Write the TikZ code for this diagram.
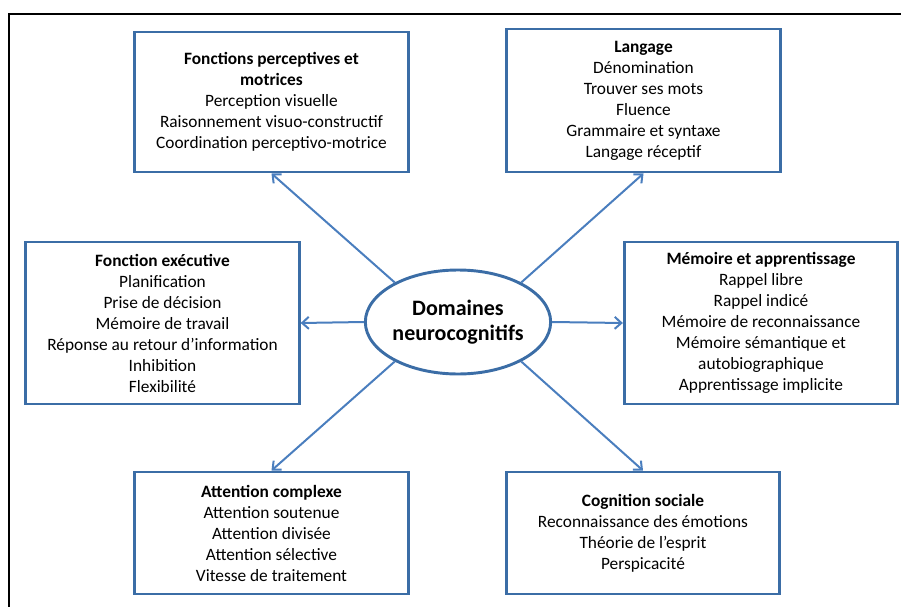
\documentclass[tikz,border=0pt]{standalone}
\usepackage{fontspec}
\setmainfont{Carlito}
\usetikzlibrary{shapes.geometric,arrows.meta}
\definecolor{boxblue}{HTML}{3B6DA6}
\definecolor{arrowblue}{HTML}{4A7EBE}

\begin{document}
\begin{tikzpicture}[x=0.75pt,y=-0.75pt,->,>={Straight Barb[length=5pt,width=9pt]},
    dombox/.style={rectangle, draw=boxblue, line width=2.2pt, minimum width=205pt, align=center, inner sep=0pt, font=\fontsize{13}{15.75}\selectfont},
    hub/.style={ellipse, draw=boxblue, line width=2.2pt, minimum width=132pt, minimum height=78pt, align=center, inner sep=0pt, font=\bfseries\fontsize{16.5}{18.75}\selectfont}]
                        \useasboundingbox (0,0) rectangle (901,607);
                        \draw[-, line width=1.5pt] (9,607) -- (9,14) -- (901,14);

                        \node [hub](centre) [] at (458,322) {Domaines\\neurocognitifs};

                        \node [dombox, minimum height=105pt](fpm) [] at (271.5,102) {\textbf{Fonctions perceptives et}\\\textbf{motrices}\\Perception visuelle\\Raisonnement visuo-constructif\\Coordination perceptivo-motrice};
                        \node [dombox, minimum height=107.25pt](lang) [] at (643.5,100.5) {\textbf{Langage}\\Dénomination\\Trouver ses mots\\Fluence\\Grammaire et syntaxe\\Langage réceptif};

                        \node [dombox, minimum height=121.5pt](exec) [] at (162.5,323) {\textbf{Fonction exécutive}\\Planification\\Prise de décision\\Mémoire de travail\\Réponse au retour d’information\\Inhibition\\Flexibilité};
                        \node [dombox, minimum height=121.5pt](mem) [] at (761,323) {\textbf{Mémoire et apprentissage}\\Rappel libre\\Rappel indicé\\Mémoire de reconnaissance\\Mémoire sémantique et\\autobiographique\\Apprentissage implicite};

                        \node [dombox, minimum height=91.5pt](att) [] at (271.5,533) {\textbf{Attention complexe}\\Attention soutenue\\Attention divisée\\Attention sélective\\Vitesse de traitement};
                        \node [dombox, minimum height=91.5pt](soc) [] at (643,533) {\textbf{Cognition sociale}\\Reconnaissance des émotions\\Théorie de l’esprit\\Perspicacité};

                        \path[color=arrowblue, line width=1.5pt]
                            (centre.148) edge (fpm.south)
                            (centre.32) edge (lang.south)
                            (centre.west) edge (exec.east)
                            (centre.east) edge (mem.west)
                            (centre.212) edge (att.north)
                            (centre.328) edge (soc.north)
                        ;
                    \end{tikzpicture}
\end{document}
